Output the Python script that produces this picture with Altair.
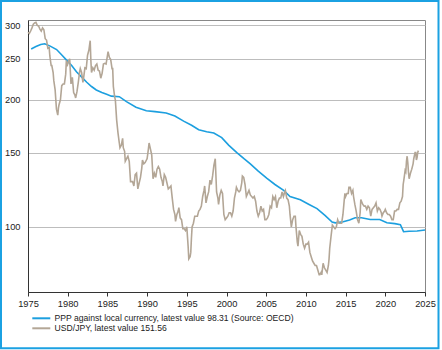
import altair as alt
import pandas as pd

# PPP (OECD) series, decimal years / values
ppp_years = [1975.4, 1976.0, 1976.6, 1977.1, 1977.8, 1978.6, 1979.2, 1979.8, 1980.5, 1981.1,
             1981.8, 1982.4, 1983.0, 1983.6, 1984.3, 1984.9, 1985.5, 1986.5, 1987.4, 1988.6,
             1989.9, 1991.0, 1992.4, 1993.5, 1994.6, 1995.6, 1996.5, 1997.5, 1998.4, 1999.4,
             2000.3, 2001.3, 2002.2, 2003.0, 2004.0, 2005.1, 2006.1, 2007.2, 2008.0, 2009.3,
             2010.4, 2011.4, 2012.4, 2013.3, 2013.7, 2014.7, 2015.5, 2016.2, 2017.0, 2018.1,
             2019.3, 2020.2, 2021.2, 2021.9, 2022.3, 2023.0, 2024.0, 2025.0]
ppp_values = [263.8, 267.5, 270.5, 271.5, 268.0, 263.0, 256.0, 249.0, 241.0, 233.0,
              226.0, 220.0, 215.0, 211.0, 208.0, 206.0, 204.0, 203.4, 198.0, 192.0,
              188.4, 187.5, 186.0, 183.0, 178.0, 174.0, 169.8, 168.0, 166.8, 162.7,
              156.0, 149.9, 145.0, 141.0, 135.5, 130.2, 126.0, 122.0, 118.0, 115.9,
              113.0, 110.5, 106.5, 102.7, 102.2, 102.8, 103.8, 105.1, 105.1, 104.1,
              104.1, 102.3, 101.8, 101.2, 97.4, 97.6, 97.8, 98.31]

# USD/JPY, months / values
jpy_months = [
    "1975-01", "1975-03", "1975-05", "1975-07", "1975-09", "1975-11",
    "1976-01", "1976-03", "1976-05", "1976-07", "1976-09", "1976-11",
    "1977-01", "1977-03", "1977-05", "1977-07", "1977-09", "1977-10", "1977-12",
    "1978-01", "1978-03", "1978-04", "1978-06", "1978-08", "1978-10", "1978-11", "1978-12",
    "1979-02", "1979-04", "1979-06", "1979-08", "1979-10", "1979-11", "1979-12",
    "1980-02", "1980-04", "1980-06", "1980-08", "1980-10", "1980-12",
    "1981-01", "1981-03", "1981-05", "1981-07", "1981-08", "1981-10", "1981-12",
    "1982-01", "1982-03", "1982-05", "1982-07", "1982-09", "1982-11", "1982-12",
    "1983-01", "1983-03", "1983-05", "1983-07", "1983-09", "1983-11",
    "1984-01", "1984-03", "1984-05", "1984-07", "1984-09", "1984-11",
    "1985-01", "1985-02", "1985-04", "1985-06", "1985-08", "1985-09", "1985-10", "1985-12",
    "1986-01", "1986-03", "1986-05", "1986-07", "1986-08", "1986-10", "1986-12",
    "1987-01", "1987-03", "1987-04", "1987-06", "1987-08", "1987-10", "1987-12",
    "1988-01", "1988-03", "1988-05", "1988-07", "1988-09", "1988-11",
    "1989-01", "1989-03", "1989-05", "1989-06", "1989-08", "1989-10", "1989-12",
    "1990-01", "1990-03", "1990-04", "1990-06", "1990-08", "1990-10", "1990-12",
    "1991-02", "1991-04", "1991-06", "1991-08", "1991-10", "1991-12",
    "1992-01", "1992-03", "1992-05", "1992-07", "1992-09", "1992-11",
    "1993-01", "1993-03", "1993-05", "1993-07", "1993-08", "1993-10", "1993-12",
    "1994-01", "1994-03", "1994-05", "1994-07", "1994-09", "1994-11",
    "1995-01", "1995-03", "1995-04", "1995-06", "1995-07", "1995-08", "1995-09", "1995-11",
    "1996-01", "1996-03", "1996-05", "1996-07", "1996-09", "1996-11",
    "1997-01", "1997-03", "1997-04", "1997-06", "1997-08", "1997-10", "1997-12",
    "1998-02", "1998-04", "1998-06", "1998-08", "1998-10", "1998-12",
    "1999-01", "1999-03", "1999-05", "1999-07", "1999-09", "1999-11",
    "2000-01", "2000-03", "2000-05", "2000-07", "2000-09", "2000-11",
    "2001-01", "2001-03", "2001-04", "2001-06", "2001-08", "2001-10", "2001-12",
    "2002-01", "2002-03", "2002-05", "2002-07", "2002-09", "2002-11",
    "2003-01", "2003-03", "2003-05", "2003-07", "2003-09", "2003-11",
    "2004-01", "2004-03", "2004-05", "2004-07", "2004-09", "2004-11",
    "2005-01", "2005-03", "2005-05", "2005-07", "2005-09", "2005-11",
    "2006-01", "2006-03", "2006-05", "2006-07", "2006-09", "2006-11",
    "2007-01", "2007-03", "2007-05", "2007-06", "2007-08", "2007-10", "2007-12",
    "2008-01", "2008-03", "2008-05", "2008-07", "2008-09", "2008-10", "2008-12",
    "2009-01", "2009-03", "2009-05", "2009-07", "2009-09", "2009-11",
    "2010-01", "2010-03", "2010-05", "2010-07", "2010-09", "2010-11",
    "2011-01", "2011-03", "2011-05", "2011-07", "2011-09", "2011-10", "2011-12",
    "2012-01", "2012-03", "2012-05", "2012-07", "2012-09", "2012-11", "2012-12",
    "2013-01", "2013-03", "2013-05", "2013-07", "2013-09", "2013-11",
    "2014-01", "2014-03", "2014-05", "2014-07", "2014-09", "2014-11", "2014-12",
    "2015-01", "2015-03", "2015-05", "2015-06", "2015-08", "2015-10", "2015-12",
    "2016-01", "2016-03", "2016-05", "2016-07", "2016-09", "2016-11", "2016-12",
    "2017-01", "2017-03", "2017-05", "2017-07", "2017-09", "2017-11",
    "2018-01", "2018-03", "2018-05", "2018-07", "2018-09", "2018-11",
    "2019-01", "2019-03", "2019-05", "2019-07", "2019-08", "2019-10", "2019-12",
    "2020-01", "2020-03", "2020-05", "2020-07", "2020-09", "2020-11",
    "2021-01", "2021-03", "2021-05", "2021-07", "2021-09", "2021-11",
    "2022-01", "2022-03", "2022-04", "2022-05", "2022-07", "2022-08", "2022-09", "2022-10", "2022-11", "2022-12",
    "2023-01", "2023-03", "2023-05", "2023-07", "2023-08", "2023-10", "2023-11", "2023-12",
    "2024-01", "2024-02", "2024-03",
]
jpy_values = [
    289, 287, 291, 296, 302, 304,
    305, 300, 299, 294, 291, 296,
    293, 279, 277, 265, 266, 254, 241,
    241, 232, 222, 211, 190, 184, 191, 195,
    200, 216, 218, 218, 230, 248, 240,
    246, 250, 218, 226, 208, 205,
    202, 209, 220, 233, 237, 232, 220,
    225, 238, 237, 255, 262, 276, 248,
    232, 238, 235, 241, 243, 235,
    234, 225, 231, 243, 244, 243,
    254, 260, 252, 249, 237, 237, 215, 203,
    200, 179, 167, 158, 154, 156, 162,
    154, 151, 143, 145, 147, 143, 128,
    128, 128, 125, 133, 134, 123,
    127, 131, 138, 144, 141, 142, 144,
    145, 153, 158, 153, 148, 130, 134,
    131, 137, 139, 137, 131, 128,
    125, 133, 131, 127, 123, 124,
    125, 117, 110, 107, 103, 107, 109,
    111, 105, 104, 99, 99, 98,
    100, 90, 84, 85, 87, 94, 100, 102,
    106, 106, 106, 109, 110, 112,
    118, 122, 125, 114, 118, 121, 129,
    126, 132, 140, 145, 121, 117,
    113, 119, 122, 120, 107, 104,
    105, 106, 108, 108, 106, 109,
    117, 121, 124, 122, 121, 122, 127,
    132, 131, 126, 118, 120, 122,
    119, 118, 117, 118, 115, 109,
    106, 108, 112, 109, 110, 104,
    104, 105, 107, 112, 111, 118,
    116, 118, 111, 115, 117, 117,
    121, 118, 121, 122, 117, 116, 112,
    107, 100, 104, 106, 106, 100, 92,
    90, 98, 96, 95, 91, 89,
    91, 91, 92, 87, 85, 83,
    82, 81, 81, 79, 77, 77, 78,
    77, 82, 80, 79, 78, 81, 84,
    89, 95, 101, 100, 99, 100,
    104, 102, 102, 102, 107, 116, 120,
    118, 120, 120, 124, 124, 120, 122,
    118, 113, 109, 104, 102, 108, 116,
    115, 113, 112, 112, 110, 112,
    111, 106, 110, 111, 112, 114,
    109, 111, 110, 108, 106, 108, 109,
    110, 108, 107, 107, 106, 104,
    104, 109, 109, 110, 110, 114,
    115, 118, 126, 129, 136, 135, 143, 147, 142, 135,
    130, 134, 137, 141, 145, 150, 150, 144,
    146, 150, 151.56,
]

series_names = [
    "PPP against local currency, latest value 98.31 (Source: OECD)",
    "USD/JPY, latest value 151.56",
]
series_colors = ["#1c9fdf", "#b3a696"]
y_ticks = [100, 150, 200, 250, 300]
x_ticks = list(range(1975, 2030, 5))


def to_decimal(m):
    y, mo = m.split("-")
    return int(y) + (int(mo) - 1) / 12


df = pd.concat([
    pd.DataFrame({"year": ppp_years, "value": ppp_values, "series": series_names[0]}),
    pd.DataFrame({"year": [to_decimal(m) for m in jpy_months], "value": jpy_values,
                  "series": series_names[1]}),
], ignore_index=True)

lines = alt.Chart(df).mark_line(strokeWidth=1.6).encode(
    x=alt.X("year:Q",
            scale=alt.Scale(domain=[1975, 2025], nice=False, zero=False),
            axis=alt.Axis(values=x_ticks, format="d", grid=False, title=None,
                          tickSize=4, tickColor="#333333", domain=True,
                          domainColor="#333333", domainWidth=1, labelFlush=False,
                          labelPadding=3, labelFontSize=9.3, labelColor="#222222",
                          labelFont="Liberation Sans")),
    y=alt.Y("value:Q",
            scale=alt.Scale(type="log", domain=[70.1, 309], nice=False),
            axis=alt.Axis(values=y_ticks, format="d", title=None, ticks=False,
                          labelPadding=8, gridColor="#bdbdbd", gridWidth=1,
                          domain=True, domainColor="#333333", domainWidth=1,
                          labelFontSize=9.3, labelColor="#222222",
                          labelFont="Liberation Sans")),
    color=alt.Color("series:N",
                    scale=alt.Scale(domain=series_names, range=series_colors),
                    title=None,
                    legend=alt.Legend(orient="none", legendX=9, legendY=294,
                                      symbolType="M-3,0H3", symbolSize=36,
                                      symbolStrokeWidth=2, rowPadding=1,
                                      labelOffset=9, labelFontSize=8.6,
                                      labelFont="Liberation Sans",
                                      labelColor="#222222", padding=0,
                                      labelLimit=400)),
)

border = alt.Chart(alt.Data(values=[{}])).mark_rect(
    filled=False, stroke="#1ba1e2", strokeWidth=2
).encode(
    x=alt.value(-27), x2=alt.value(410.5), y=alt.value(-19), y2=alt.value(328.3)
)

chart = alt.layer(border, lines).properties(
    width=397, height=272,
    padding={"left": 28, "top": 20, "right": 17, "bottom": 58},
    autosize=alt.AutoSizeParams(type="none"),
    background="white",
).configure_view(stroke="#888888", strokeWidth=1)

chart.save("out.html", embed_options={"renderer": "svg", "actions": False})
